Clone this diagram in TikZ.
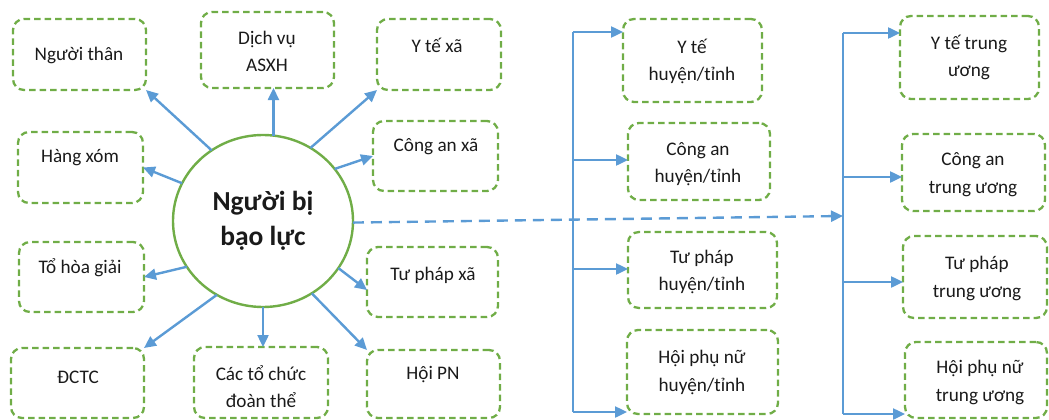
\documentclass[tikz,border=0pt]{standalone}
\usepackage{fontspec}
\setmainfont{Carlito}
\usetikzlibrary{arrows.meta,shapes.geometric,calc}
\definecolor{leaf}{HTML}{70AD47}
\definecolor{sky}{HTML}{5B9BD5}
\definecolor{ink}{HTML}{1A1A1A}
\begin{document}
\begin{tikzpicture}[x=1pt,y=-1pt,
  box/.style={draw=leaf, line width=2.3pt, dash pattern=on 6.5pt off 4pt,
    rounded corners=11pt, inner sep=0pt, outer sep=0pt},
  lbl/.style={font=\fontsize{19.2}{27.5}\selectfont, text=ink, align=center, inner sep=0pt},
  hub/.style={draw=leaf, line width=2.4pt, ellipse, minimum width=180pt,
    minimum height=172pt, inner sep=0pt, outer sep=0pt, align=center, text=ink,
    font=\fontsize{27.5}{35}\selectfont\bfseries},
  link/.style={draw=sky, line width=2.4pt, -{Triangle[length=12pt,width=11pt]}},
  rail/.style={draw=sky, line width=2.4pt},
  dashlink/.style={link, dash pattern=on 11pt off 7pt}]
\useasboundingbox (0,0) rectangle (1049,420);

% central node
\node[hub] (c) at (263,221) {Người bị\\bạo lực};

% commune-level boxes around the centre
\node[box, minimum width=133pt, minimum height=71pt] (nt)   at (79.5,54.5) {};
\node[box, minimum width=125pt, minimum height=71pt] (hx)   at (80.5,167.5) {};
\node[box, minimum width=125pt, minimum height=70pt] (thg)  at (81.5,277) {};
\node[box, minimum width=133pt, minimum height=70pt] (dctc) at (77.5,383) {};
\node[box, minimum width=133pt, minimum height=76pt] (dv)   at (267.5,50) {};
\node[box, minimum width=134pt, minimum height=71pt] (ctc)  at (261,382.5) {};
\node[box, minimum width=124pt, minimum height=71pt] (yx)   at (439,54.5) {};
\node[box, minimum width=125pt, minimum height=70pt] (cax)  at (435.5,156) {};
\node[box, minimum width=131pt, minimum height=70pt] (tpx)  at (432.5,282) {};
\node[box, minimum width=133pt, minimum height=68pt] (hpn)  at (433.5,384) {};

\node[lbl] (t-nt)   at (79,55)    {Người thân};
\node[lbl] (t-dv)   at (267,51.5) {Dịch vụ\\ASXH};
\node[lbl] (t-hx)   at (80,158)   {Hàng xóm};
\node[lbl] (t-thg)  at (80,268)   {Tổ hòa giải};
\node[lbl] (t-dctc) at (78,377)   {ĐCTC};
\node[lbl] (t-ctc)  at (261,386.5){Các tổ chức\\đoàn thể};
\node[lbl] (t-yx)   at (437,45)   {Y tế xã};
\node[lbl] (t-cax)  at (436,147)  {Công an xã};
\node[lbl] (t-tpx)  at (433,275)  {Tư pháp xã};
\node[lbl] (t-hpn)  at (433,375)  {Hội PN};

% district / province level
\node[box, minimum width=139pt, minimum height=83pt] (yth) at (692.5,60.5) {};
\node[box, minimum width=142pt, minimum height=77pt] (cah) at (699,161.5) {};
\node[box, minimum width=149pt, minimum height=76pt] (tph) at (702.5,270) {};
\node[box, minimum width=151pt, minimum height=84pt] (hph) at (702.5,372) {};

\node[lbl] (t-yth) at (692,61.5)  {Y tế\\huyện/tỉnh};
\node[lbl] (t-cah) at (698,164)   {Công an\\huyện/tỉnh};
\node[lbl] (t-tph) at (702,272)   {Tư pháp\\huyện/tỉnh};
\node[lbl] (t-hph) at (702,372.5) {Hội phụ nữ\\huyện/tỉnh};

% central level
\node[box, minimum width=139pt, minimum height=83pt] (ytt)  at (969.5,57.5) {};
\node[box, minimum width=143pt, minimum height=77pt] (catw) at (973.5,172.5) {};
\node[box, minimum width=144pt, minimum height=82pt] (tptw) at (975,277) {};
\node[box, minimum width=142pt, minimum height=76pt] (hptw) at (976,380) {};

\node[lbl] (t-ytt)  at (969,57.5)  {Y tế trung\\ương};
\node[lbl] (t-catw) at (973,174.5) {Công an\\trung ương};
\node[lbl] (t-tptw) at (977,278.5) {Tư pháp\\trung ương};
\node[lbl] (t-hptw) at (980,382.5) {Hội phụ nữ\\trung ương};

% spokes from the centre
\draw[link] (c.126.6) -- (nt.south east);
\draw[link] (c.155) -- (hx.east);
\draw[link] (c.83) -- (c.83 |- dv.south);
\draw[link] (c.57) -- (yx.south west);
\draw[link] (c.36) -- (cax.west);
\draw[link] (c.-32) -- (tpx.187);
\draw[link] (c.-56) -- (hpn.north west);
\draw[link] (c.south) -- (c.south |- ctc.north);
\draw[link] (c.238) -- (dctc.north east);
\draw[link] (c.211) -- (thg.east);

% district rail
\coordinate (m1) at (573,32);
\coordinate (m2) at (573,160);
\coordinate (m3) at (573,269);
\coordinate (m4) at (573,412);
\draw[rail] (m1) -- (m4);
\draw[link] (m1) -- (m1 -| yth.west);
\draw[link] (m2) -- (m2 -| cah.west);
\draw[link] (m3) -- (m3 -| tph.west);
\draw[link] (m4) -- (m4 -| hph.west);

% central rail
\coordinate (r1) at (843,33);
\coordinate (r2) at (843,177);
\coordinate (r3) at (843,282);
\coordinate (r4) at (843,414);
\coordinate (rd) at (843,216);
\draw[rail] (r1) -- (r4);
\draw[link] (r1) -- (r1 -| ytt.west);
\draw[link] (r2) -- (r2 -| catw.west);
\draw[link] (r3) -- (r3 -| tptw.west);
\draw[link] (r4) -- (r4 -| hptw.west);

% escalation from the centre to the central level
\draw[dashlink] (c.-1) -- (rd);
\end{tikzpicture}
\end{document}
